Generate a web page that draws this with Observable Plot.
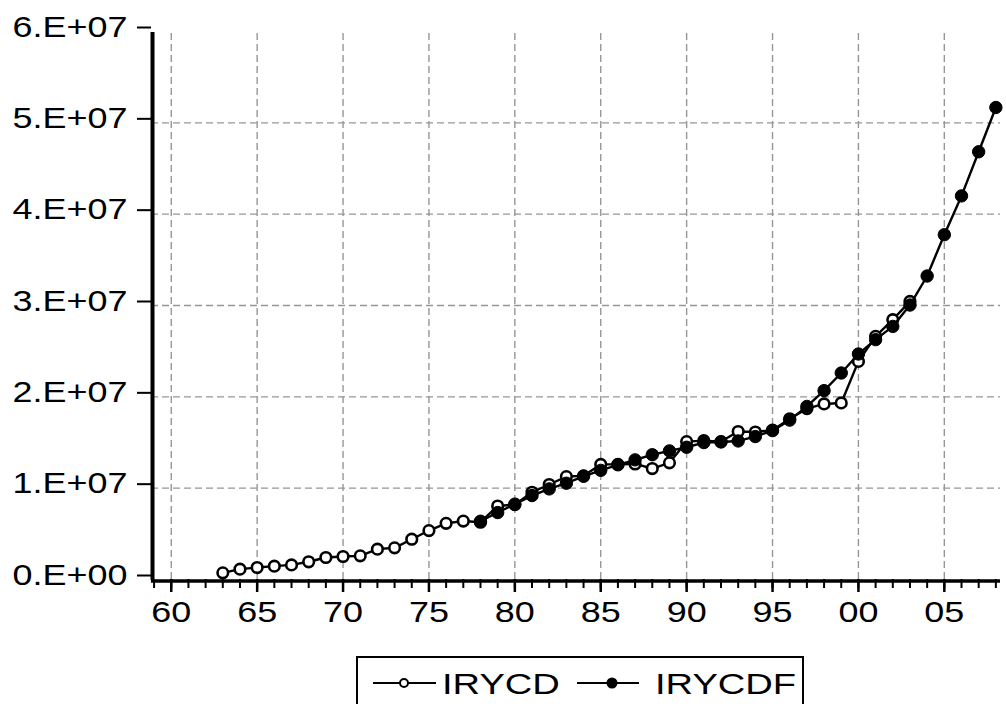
<!DOCTYPE html>
<html><head><meta charset="utf-8">
<script src="https://cdn.jsdelivr.net/npm/d3@7"></script>
<script src="https://cdn.jsdelivr.net/npm/@observablehq/plot@0.6"></script>
<style>
body{margin:0;background:#fff;font-family:"Liberation Sans",Arial,sans-serif;}
#chart{position:absolute;left:0;top:0;}
#legend{position:absolute;left:356px;top:656px;width:448px;height:70px;border:2px solid #000;box-sizing:border-box;background:#fff;}
</style></head><body>
<div id="chart"></div>
<div id="legend"></div>
<script>
// Data
const yearsIRYCD = d3.range(1963, 2004);
const IRYCD = [0.73e6, 1.13e6, 1.31e6, 1.46e6, 1.60e6, 1.94e6, 2.41e6, 2.52e6, 2.59e6, 3.32e6,
  3.47e6, 4.41e6, 5.36e6, 6.15e6, 6.40e6, 6.27e6, 8.05e6, 8.20e6, 9.55e6, 10.4e6,
  11.27e6, 11.35e6, 12.6e6, 12.6e6, 12.65e6, 12.15e6, 12.77e6, 15.1e6, 15.2e6, 15.1e6,
  16.2e6, 16.15e6, 16.35e6, 17.6e6, 18.7e6, 19.22e6, 19.33e6, 23.88e6, 26.62e6, 28.45e6, 30.45e6];
const yearsIRYCDF = d3.range(1978, 2009);
const IRYCDF = [6.38e6, 7.33e6, 8.25e6, 9.19e6, 9.92e6, 10.54e6, 11.3e6, 11.95e6, 12.56e6, 13.1e6,
  13.66e6, 14.08e6, 14.48e6, 14.99e6, 15.06e6, 15.17e6, 15.65e6, 16.3e6, 17.45e6, 18.95e6,
  20.68e6, 22.61e6, 24.69e6, 26.26e6, 27.71e6, 30.05e6, 33.23e6, 37.75e6, 42.0e6, 46.83e6, 51.68e6];
const seriesNames = ["IRYCD", "IRYCDF"];
const yTicks = [0, 1e7, 2e7, 3e7, 4e7, 5e7, 6e7];
const yGrid = [1e7, 2e7, 3e7, 4e7, 5e7];
const xMajorTicks = [1960, 1965, 1970, 1975, 1980, 1985, 1990, 1995, 2000, 2005];
const xMinorTicks = d3.range(1959, 2009);
const xDomain = [1958.85, 2008.27];
const yDomain = [0, 6e7];

const dataD = yearsIRYCD.map((year, i) => ({year, value: IRYCD[i]}));
const dataF = yearsIRYCDF.map((year, i) => ({year, value: IRYCDF[i]}));

const yFmt = d => {
  if (d === 0) return "0.E+00";
  const e = Math.floor(Math.log10(d));
  return `${Math.round(d / 10 ** e)}.E+${String(e).padStart(2, "0")}`;
};
const xFmt = d => String(d % 100).padStart(2, "0");
const grid = {stroke: "#969696", strokeWidth: 1.4, strokeDasharray: "7,4"};

const plot = Plot.plot({
  width: 1006, height: 640,
  marginLeft: 151, marginRight: 6, marginTop: 31, marginBottom: 61,
  style: {fontFamily: '"Liberation Sans", Arial, sans-serif', fontSize: "28px", color: "#000", background: "#fff"},
  x: {domain: xDomain},
  y: {domain: yDomain},
  marks: [
    Plot.ruleX(xMajorTicks, {x: d => d, y1: yDomain[0], y2: yDomain[1], ...grid}),
    Plot.ruleY(yGrid, {y: d => d, x1: xDomain[0], x2: xDomain[1], ...grid}),
    Plot.axisY(yTicks, {tickSize: 14, tickPadding: 10, tickFormat: yFmt, strokeWidth: 2, fontSize: 29, dy: -4, label: null}),
    Plot.axisX(xMinorTicks, {tickSize: 9, tickFormat: () => "", strokeWidth: 2, label: null}),
    Plot.axisX(xMajorTicks, {tickSize: 13, tickPadding: 9, tickFormat: xFmt, strokeWidth: 2.5, fontSize: 29, label: null}),
    Plot.ruleY([yDomain[0]], {x1: xDomain[0], x2: xDomain[1], dy: 1.5, strokeWidth: 3.5, stroke: "#000"}),
    Plot.ruleX([xDomain[0]], {y1: yDomain[0], y2: yDomain[1], dx: 1, dy: 1, strokeWidth: 4, stroke: "#000"}),
    Plot.line(dataD, {x: "year", y: "value", stroke: "#000", strokeWidth: 2.4}),
    Plot.dot(dataD, {x: "year", y: "value", r: 5.3, fill: "#fff", stroke: "#000", strokeWidth: 2.6}),
    Plot.line(dataF, {x: "year", y: "value", stroke: "#000", strokeWidth: 2.4}),
    Plot.dot(dataF, {x: "year", y: "value", r: 6.2, fill: "#000", stroke: "#000", strokeWidth: 1})
  ]
});
document.getElementById("chart").appendChild(plot);

// horizontally stretch tick labels like the original rendering
plot.querySelectorAll('g[aria-label$="tick label"] text').forEach(t => {
  const tr = t.getAttribute("transform");
  if (tr) t.setAttribute("transform", tr + " scale(1.24,1)");
});

// Legend
const lg = d3.select("#legend").append("svg").attr("width", 444).attr("height", 66);
const items = [
  {name: seriesNames[0], x0: 15, x1: 78, cx: 46, fill: "#fff", r: 4, tx: 84},
  {name: seriesNames[1], x0: 219, x1: 281, cx: 254, fill: "#000", r: 4.5, tx: 297}
];
items.forEach(it => {
  lg.append("line").attr("x1", it.x0).attr("x2", it.x1).attr("y1", 25).attr("y2", 25)
    .attr("stroke", "#000").attr("stroke-width", 2);
  lg.append("circle").attr("cx", it.cx).attr("cy", 25).attr("r", it.r)
    .attr("fill", it.fill).attr("stroke", "#000").attr("stroke-width", 2);
  lg.append("text").attr("transform", `translate(${it.tx},36) scale(1.27,1)`)
    .attr("font-size", 30).attr("font-family", '"Liberation Sans", Arial, sans-serif')
    .attr("fill", "#000").text(it.name);
});
</script>
</body></html>
